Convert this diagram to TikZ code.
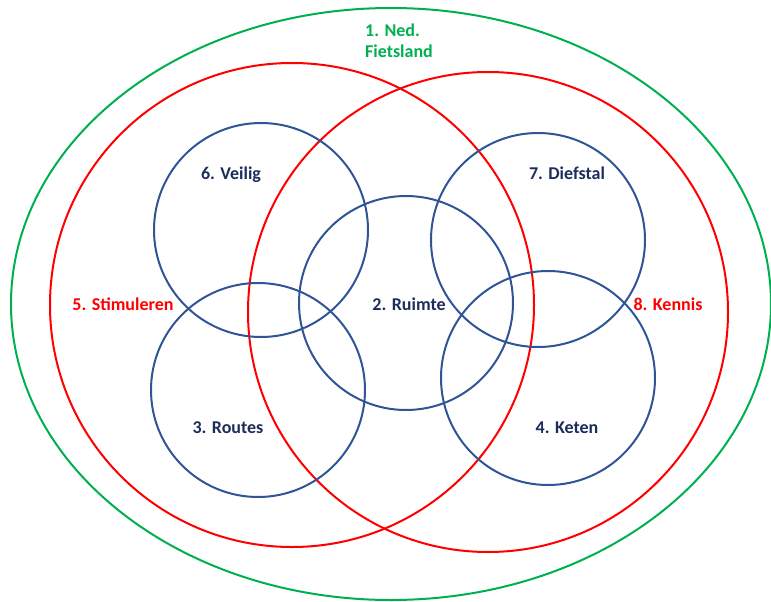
\documentclass[tikz,border=0pt]{standalone}
\usepackage{fontspec}
\setmainfont{Carlito}
\definecolor{vgreen}{RGB}{0,176,80}
\definecolor{vred}{RGB}{255,0,0}
\definecolor{vblue}{RGB}{47,85,151}
\definecolor{vnavy}{RGB}{28,45,90}
\begin{document}
\begin{tikzpicture}[x=1pt,y=-1pt,
  lbl/.style={font=\fontsize{18}{21}\selectfont\bfseries, inner sep=0pt},
  gline/.style={draw=vgreen, line width=2pt},
  rline/.style={draw=vred, line width=2pt},
  bline/.style={draw=vblue, line width=2pt}]
\useasboundingbox (0,0) rectangle (771,602);
% outer green ellipse
\draw[gline] (391,304) ellipse [x radius=380, y radius=296];
% red circles
\draw[rline] (292,305) circle [radius=242];
\draw[rline] (488,312) circle [radius=240];
% blue circles
\draw[bline] (261,230) circle [radius=107];
\draw[bline] (258,390) circle [radius=107];
\draw[bline] (406,303) circle [radius=107];
\draw[bline] (538,240) circle [radius=107];
\draw[bline] (548,378) circle [radius=107];
% labels
\node[lbl, text=vgreen, align=left] (ned) at (399,41) {1. Ned.\\Fietsland};
\node[lbl, text=vnavy] (veilig) at (231,175) {6. Veilig};
\node[lbl, text=vnavy] (dief) at (567,173) {7. Diefstal};
\node[lbl, text=vnavy] (ruimte) at (409,304) {2. Ruimte};
\node[lbl, text=vnavy] (routes) at (228,428) {3. Routes};
\node[lbl, text=vnavy] (keten) at (567,428) {4. Keten};
\node[lbl, text=vred] (stim) at (123,304) {5. Stimuleren};
\node[lbl, text=vred] (kennis) at (668,304) {8. Kennis};
\end{tikzpicture}
\end{document}
